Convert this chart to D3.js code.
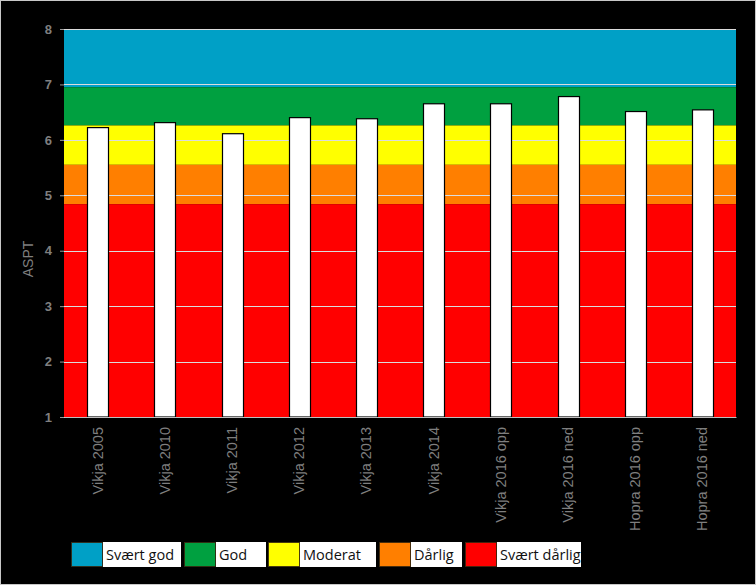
<!DOCTYPE html>
<html><head><meta charset="utf-8">
<script src="https://cdn.jsdelivr.net/npm/d3@7"></script>
<style>html,body{margin:0;padding:0;background:#000;}svg{display:block;}</style>
</head><body>
<script>
const categories = ["Vikja 2005","Vikja 2010","Vikja 2011","Vikja 2012","Vikja 2013","Vikja 2014","Vikja 2016 opp","Vikja 2016 ned","Hopra 2016 opp","Hopra 2016 ned"];
const aspt = [6.23, 6.32, 6.12, 6.41, 6.39, 6.66, 6.66, 6.79, 6.52, 6.55];
const bandNames = ["Svært god","God","Moderat","Dårlig","Svært dårlig"];
const bandLow = [6.95, 6.26, 5.55, 4.84, 1];
const bandHigh = [8, 6.95, 6.26, 5.55, 4.84];
const bandColors = ["#00A0C6","#00A040","#FFFF00","#FF7F00","#FF0000"];
const yTicks = [1,2,3,4,5,6,7,8];

const W = 756, H = 585;
const m = {left:64, right:20, top:29, bottom:168};
const svg = d3.select("body").append("svg").attr("width", W).attr("height", H);
svg.append("rect").attr("x",0.5).attr("y",0.5).attr("width",W-1).attr("height",H-1)
  .attr("fill","#000").attr("stroke","#c8c8c8");

const x = d3.scaleBand().domain(categories).range([m.left, W - m.right]).paddingInner(0).paddingOuter(0);
const y = d3.scaleLinear().domain([1, 8]).range([H - m.bottom, m.top]);

// quality bands
svg.append("g").selectAll("rect").data(bandNames).join("rect")
  .attr("x", m.left).attr("width", W - m.right - m.left)
  .attr("y", (d,i) => y(bandHigh[i])).attr("height", (d,i) => y(bandLow[i]) - y(bandHigh[i]))
  .attr("fill", (d,i) => bandColors[i]);

// gridlines
svg.append("g").selectAll("line").data(yTicks).join("line")
  .attr("x1", m.left).attr("x2", W - m.right)
  .attr("y1", d => Math.round(y(d)) + 0.5).attr("y2", d => Math.round(y(d)) + 0.5)
  .attr("stroke", "#dcdcdc").attr("stroke-width", 1);

// y axis
const ya = svg.append("g").attr("transform", `translate(${m.left},0)`)
  .call(d3.axisLeft(y).tickValues(yTicks).tickSize(4).tickPadding(8).tickFormat(d3.format("d")));
ya.select(".domain").remove();
ya.selectAll(".tick line").attr("stroke", "#9a9a9a");
ya.selectAll("text").attr("fill", "#7f7f7f").attr("font-family", "Liberation Sans, Arial, sans-serif")
  .attr("font-size", 13).attr("font-weight", "bold");

svg.append("text").attr("transform", `translate(33,259) rotate(-90)`)
  .attr("text-anchor","middle").attr("fill","#7f7f7f")
  .attr("font-family","Liberation Sans, Arial, sans-serif").attr("font-size",14).text("ASPT");

// bars
const bw = 21;
svg.append("g").selectAll("rect").data(aspt).join("rect")
  .attr("x", (d,i) => Math.round(x(categories[i]) + x.bandwidth()/2 - bw/2) + 0.5)
  .attr("width", bw)
  .attr("y", d => y(d) + 0.5).attr("height", d => y(1) - y(d) - 0.5)
  .attr("fill", "#fff").attr("stroke", "#000").attr("stroke-width", 1.2);

// x labels
const xa = svg.append("g").attr("transform", `translate(0,${y(1)})`)
  .call(d3.axisBottom(x).tickSize(0).tickPadding(0));
xa.select(".domain").attr("stroke","#bdbdbd");
xa.selectAll("text").attr("transform", "translate(0,10) rotate(-90)")
  .attr("text-anchor","end").attr("dy","0.35em").attr("x",0).attr("y",0)
  .attr("fill","#7f7f7f").attr("font-family","Liberation Sans, Arial, sans-serif").attr("font-size",14.5);

// legend
const legX = [71, 184, 268, 379, 465];
const boxEnd = [181, 266, 376, 462, 581];
const lg = svg.append("g");
bandNames.forEach((n,i) => {
  const sx = legX[i];
  lg.append("rect").attr("x", sx + 0.5).attr("y", 542.5).attr("width", 31).attr("height", 24)
    .attr("fill", bandColors[i]).attr("stroke", "#3a2a10").attr("stroke-width", 0.8);
  lg.append("rect").attr("x", sx + 32).attr("y", 542).attr("width", boxEnd[i] - sx - 32).attr("height", 25)
    .attr("fill", "#fff");
  lg.append("text").attr("x", sx + 35).attr("y", 560).attr("fill","#111")
    .attr("font-family","Open Sans, Liberation Sans, sans-serif").attr("font-size",14.5).text(n);
});
</script>
</body></html>
